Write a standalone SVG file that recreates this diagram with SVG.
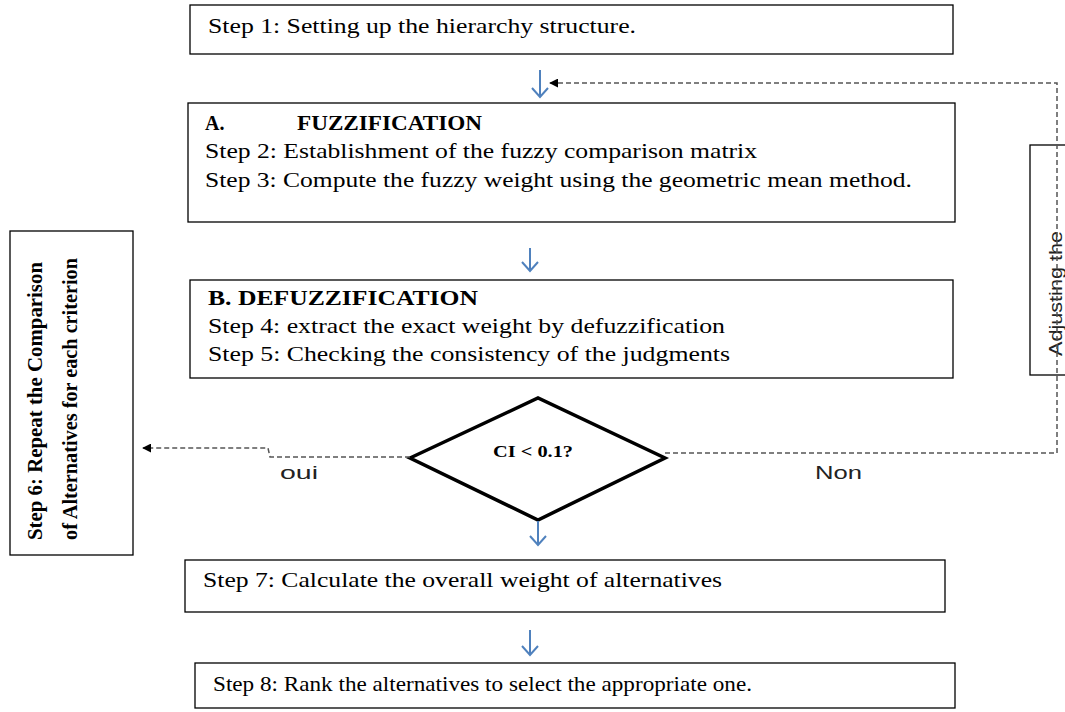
<svg xmlns="http://www.w3.org/2000/svg" width="1065" height="712" viewBox="0 0 1065 712">
<style>
.box{fill:#fff;stroke:#000;stroke-width:1.3}
.t{font-family:"Liberation Serif",serif;font-size:21px;fill:#000}
.b{font-family:"Liberation Serif",serif;font-size:20px;font-weight:bold;fill:#000}
.s{font-family:"Liberation Sans",sans-serif;font-size:18px;fill:#222}
.dash{fill:none;stroke:#555;stroke-width:1.5;stroke-dasharray:5,3}
.blue{fill:none;stroke:#4f81bd;stroke-width:2}
</style>
<defs>
<marker id="ah" viewBox="0 0 10 10" refX="9" refY="5" markerWidth="6" markerHeight="6" orient="auto">
<path d="M0,0 L10,5 L0,10 z" fill="#000"/>
</marker>
</defs>
<rect width="1065" height="712" fill="#fff"/>
<g id="step1">
<rect class="box" x="190" y="5" width="763" height="49"/>
<text class="t" x="208" y="33" textLength="428" lengthAdjust="spacingAndGlyphs">Step 1: Setting up the hierarchy structure.</text>
</g>
<g id="fuzzification">
<rect class="box" x="188" y="103" width="767" height="119"/>
<text class="b" x="205" y="130">A.</text>
<text class="b" x="297" y="130" textLength="185" lengthAdjust="spacingAndGlyphs">FUZZIFICATION</text>
<text class="t" x="205" y="158" textLength="552" lengthAdjust="spacingAndGlyphs">Step 2: Establishment of the fuzzy comparison matrix</text>
<text class="t" x="205" y="187" textLength="707" lengthAdjust="spacingAndGlyphs">Step 3: Compute the fuzzy weight using the geometric mean method.</text>
</g>
<g id="defuzzification">
<rect class="box" x="190" y="280" width="763" height="98"/>
<text class="b" x="208" y="305" textLength="270" lengthAdjust="spacingAndGlyphs">B. DEFUZZIFICATION</text>
<text class="t" x="208" y="333" textLength="517" lengthAdjust="spacingAndGlyphs">Step 4: extract the exact weight by defuzzification</text>
<text class="t" x="208" y="361" textLength="522" lengthAdjust="spacingAndGlyphs">Step 5: Checking the consistency of the judgments</text>
</g>
<g id="decision">
<polygon points="410,458 538,398 665,458 538,520" fill="#fff" stroke="#000" stroke-width="3.5" stroke-linejoin="miter"/>
<text class="b" x="493" y="457" style="font-size:17px" textLength="80" lengthAdjust="spacingAndGlyphs">CI &lt; 0.1?</text>
</g>
<g id="step6">
<rect class="box" x="10" y="231" width="123" height="324"/>
<text class="b" transform="translate(42,540) rotate(-90)" style="font-size:22px" textLength="278" lengthAdjust="spacingAndGlyphs">Step 6: Repeat the Comparison</text>
<text class="b" transform="translate(77,540) rotate(-90)" style="font-size:22px" textLength="282" lengthAdjust="spacingAndGlyphs">of Alternatives for each criterion</text>
</g>
<g id="adjusting">
<rect class="box" x="1030" y="145" width="40" height="230"/>
<text class="s" transform="translate(1062,356) rotate(-90)" textLength="125" lengthAdjust="spacingAndGlyphs">Adjusting the</text>
</g>
<g id="step7">
<rect class="box" x="185" y="560" width="760" height="52"/>
<text class="t" x="203" y="587" textLength="519" lengthAdjust="spacingAndGlyphs">Step 7: Calculate the overall weight of alternatives</text>
</g>
<g id="step8">
<rect class="box" x="195" y="663" width="760" height="45"/>
<text class="t" x="213" y="691" textLength="539" lengthAdjust="spacingAndGlyphs">Step 8: Rank the alternatives to select the appropriate one.</text>
</g>
<g id="connectors">
<path class="blue" d="M540,70 V97 M532,88 L540,97 L548,88"/>
<path class="blue" d="M530,248 V271 M522,262 L530,271 L538,262"/>
<path class="blue" d="M538,521 V545 M530,536 L538,545 L546,536"/>
<path class="blue" d="M530,630 V655 M522,646 L530,655 L538,646"/>
<path class="dash" d="M665,453 H1057 V83 H550" marker-end="url(#ah)"/>
<path class="dash" d="M410,457 H270 L268,448 H143" marker-end="url(#ah)"/>
<text class="s" x="280" y="479" textLength="38" lengthAdjust="spacingAndGlyphs">oui</text>
<text class="s" x="815" y="479" textLength="47" lengthAdjust="spacingAndGlyphs">Non</text>
</g>
</svg>
